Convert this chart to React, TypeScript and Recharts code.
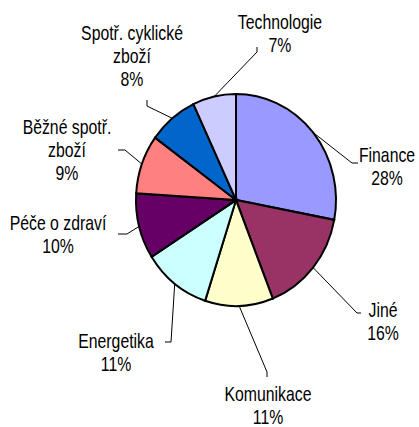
import { PieChart, Pie, Cell } from 'recharts';

// podíl sektorů v portfoliu (%)
const SECTORS = ['Finance', 'Jiné', 'Komunikace', 'Energetika', 'Péče o zdraví', 'Běžné spotř. zboží', 'Spotř. cyklické zboží', 'Technologie'];
const SHARES = [28, 16, 11, 11, 10, 9, 8, 7];
const COLORS = ['#9999FF', '#993366', '#FFFFCC', '#CCFFFF', '#660066', '#FF8080', '#0066CC', '#CCCCFF'];

// placement of the labels (text centre + elbow of the leader line), like in the excel original
const LABEL_LAYOUT = [
  { x: 387, y: 155, wrap: false, leader: [[358, 163], [352, 163]] },
  { x: 383, y: 310, wrap: false, leader: [[361, 313], [357, 313]] },
  { x: 268, y: 394, wrap: false, leader: [[267, 377], [267, 372]] },
  { x: 116, y: 341, wrap: false, leader: [[165, 342], [171, 342]] },
  { x: 58, y: 223, wrap: false, leader: [[118, 234], [127, 234]] },
  { x: 67, y: 127, wrap: true, leader: [[118, 150], [125, 150]] },
  { x: 132, y: 33, wrap: true, leader: [[147, 100], [147, 106]] },
  { x: 280, y: 22, wrap: false, leader: [[257, 47], [257, 52]] },
];

const CX = 236;
const CY = 200;
const R = 100;
const Y_STRETCH = 1.06; // pie in the original is a bit taller than wide
const LINE_H = 23;
const FONT = '"Liberation Sans", Arial, sans-serif';
const NARROW = 0.79; // no narrow font installed -> squeeze Liberation Sans

const data = SECTORS.map((name, i) => ({ name, value: SHARES[i] }));

const RAD = Math.PI / 180;

function renderLabel(props: any) {
  const { cx, cy, midAngle, outerRadius, percent, index, name } = props;
  const layout = LABEL_LAYOUT[index];
  const ex = cx + outerRadius * Math.cos(-midAngle * RAD);
  const ey = cy + outerRadius * Y_STRETCH * Math.sin(-midAngle * RAD);

  let lines = [name];
  if (layout.wrap) {
    const cut = name.lastIndexOf(' ');
    lines = [name.slice(0, cut), name.slice(cut + 1)];
  }
  lines.push(`${Math.round(percent * 100)}%`);

  const pts = [...layout.leader, [ex, ey]].map((p) => p.join(',')).join(' ');

  return (
    <g key={`lbl-${index}`}>
      <polyline points={pts} fill="none" stroke="#000" strokeWidth={1} />
      {lines.map((t, i) => (
        <g key={i} transform={`translate(${layout.x},${layout.y + i * LINE_H}) scale(${NARROW},1)`}>
          <text
            x={0}
            y={0}
            textAnchor="middle"
            dominantBaseline="central"
            fontFamily={FONT}
            fontSize={20}
            fill="#000"
          >
            {t}
          </text>
        </g>
      ))}
    </g>
  );
}

export default function App() {
  return (
    <div style={{ position: 'absolute', left: 0, top: 0, width: 419, height: 427, background: '#fff' }}>
      <style>{`.recharts-sector { transform: scaleY(${Y_STRETCH}); transform-origin: ${CX}px ${CY}px; }`}</style>
      <PieChart width={419} height={427} margin={{ top: 0, right: 0, bottom: 0, left: 0 }}>
        <Pie
          data={data}
          dataKey="value"
          nameKey="name"
          cx={CX}
          cy={CY}
          outerRadius={R}
          startAngle={90}
          endAngle={-270}
          stroke="#000"
          strokeWidth={2}
          label={renderLabel}
          labelLine={false}
          isAnimationActive={false}
        >
          {data.map((_, i) => (
            <Cell key={`cell-${i}`} fill={COLORS[i]} stroke="#000" strokeWidth={2} />
          ))}
        </Pie>
      </PieChart>
    </div>
  );
}
